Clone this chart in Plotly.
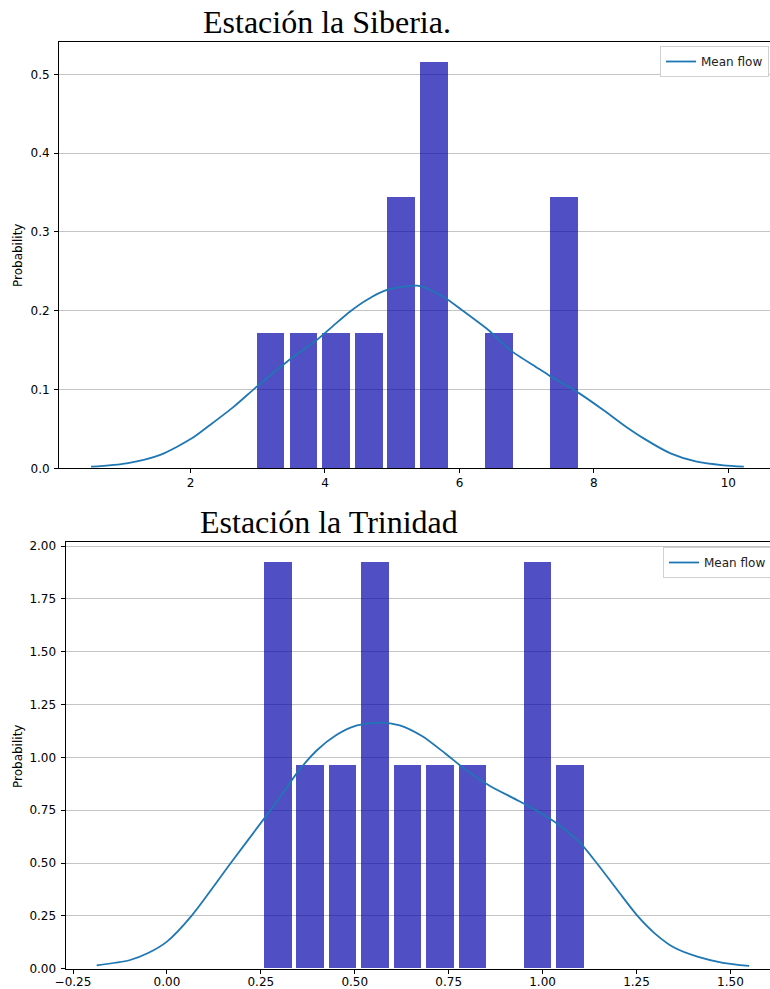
import plotly.graph_objects as go

# ---------------- data ----------------
# Station la Siberia: histogram (density) bins and KDE "Mean flow"
sib_bin_centers = [3.19, 3.68, 4.16, 4.65, 5.13, 5.62, 6.10, 6.59, 7.07, 7.56]
sib_bin_heights = [0.172, 0.172, 0.172, 0.172, 0.344, 0.516, 0.0, 0.172, 0.0, 0.344]
sib_bin_width = 0.4855
sib_kde_x = [0.52, 1.05, 1.55, 2.02, 2.29, 2.64, 2.985, 3.43, 3.88, 4.125, 4.374, 4.62,
             4.92, 5.375, 5.76, 6.05, 6.43, 6.755, 7.15, 7.35, 7.75, 8.14, 8.44, 8.74,
             9.14, 9.53, 9.93, 10.23]
sib_kde_y = [0.002, 0.0063, 0.017, 0.038, 0.055, 0.078, 0.1036, 0.135, 0.163, 0.181, 0.199,
             0.2136, 0.2263, 0.2317, 0.2178, 0.200, 0.1755, 0.150, 0.128, 0.117, 0.097,
             0.074, 0.055, 0.038, 0.019, 0.0084, 0.0038, 0.002]
sib_xticks = [2, 4, 6, 8, 10]
sib_yticks = [0.0, 0.1, 0.2, 0.3, 0.4, 0.5]

# Station la Trinidad
tri_bin_centers = [0.294, 0.380, 0.466, 0.553, 0.639, 0.726, 0.812, 0.899, 0.985, 1.071]
tri_bin_heights = [1.923, 0.962, 0.962, 1.923, 0.962, 0.962, 0.962, 0.0, 1.923, 0.962]
tri_bin_width = 0.0864
tri_kde_x = [-0.187, -0.10, -0.05, 0.0, 0.0655, 0.17, 0.2577, 0.30, 0.35, 0.40,
             0.45, 0.50, 0.567, 0.62, 0.68, 0.74, 0.80, 0.86, 0.93, 0.98, 1.04, 1.10,
             1.144, 1.20, 1.2527, 1.30, 1.35, 1.412, 1.48, 1.55]
tri_kde_y = [0.016, 0.040, 0.074, 0.128, 0.25, 0.50, 0.708, 0.81, 0.935, 1.035,
             1.105, 1.148, 1.165, 1.152, 1.10, 1.02, 0.935, 0.865, 0.80, 0.752, 0.685, 0.595,
             0.50, 0.37, 0.25, 0.165, 0.10, 0.057, 0.028, 0.013]
tri_xticks = [-0.25, 0.0, 0.25, 0.50, 0.75, 1.00, 1.25, 1.50]
tri_yticks = [0.0, 0.25, 0.5, 0.75, 1.0, 1.25, 1.5, 1.75, 2.0]

title_top = "Estación la Siberia."
title_bottom = "Estación la Trinidad"
ylabel = "Probability"
legend_label = "Mean flow"

# ---------------- figure ----------------
W, H = 770, 989
BAR_COLOR = "rgba(5,4,170,0.7)"
LINE_COLOR = "#1f77b4"
RWIDTH = 0.85

fig = go.Figure()

fig.add_trace(go.Bar(x=sib_bin_centers, y=sib_bin_heights,
                     width=[sib_bin_width * RWIDTH] * len(sib_bin_centers),
                     marker=dict(color=BAR_COLOR, line=dict(width=0)),
                     showlegend=False, xaxis="x", yaxis="y"))
fig.add_trace(go.Scatter(x=sib_kde_x, y=sib_kde_y, mode="lines", name=legend_label,
                         line=dict(color=LINE_COLOR, width=1.8, shape="spline", smoothing=0.7),
                         xaxis="x", yaxis="y", legend="legend"))

fig.add_trace(go.Bar(x=tri_bin_centers, y=tri_bin_heights,
                     width=[tri_bin_width * RWIDTH] * len(tri_bin_centers),
                     marker=dict(color=BAR_COLOR, line=dict(width=0)),
                     showlegend=False, xaxis="x2", yaxis="y2"))
fig.add_trace(go.Scatter(x=tri_kde_x, y=tri_kde_y, mode="lines", name=legend_label,
                         line=dict(color=LINE_COLOR, width=1.8, shape="spline", smoothing=0.7),
                         xaxis="x2", yaxis="y2", legend="legend2"))

def px_x(p):
    return p / W

def px_y(p):
    return 1 - p / H

axis_common = dict(showline=True, linecolor="black", linewidth=1, ticks="outside",
                   ticklen=4, tickwidth=1, tickcolor="black", zeroline=False,
                   tickfont=dict(family="DejaVu Sans", size=12, color="black"))

legend_common = dict(bgcolor="white", bordercolor="#d0d0d0", borderwidth=1,
                     font=dict(family="DejaVu Sans", size=12, color="#222222"),
                     itemwidth=30)

fig.update_layout(
    width=W, height=H,
    margin=dict(l=0, r=0, t=0, b=0, autoexpand=False),
    paper_bgcolor="white", plot_bgcolor="white",
    font=dict(family="DejaVu Sans", size=12, color="black"),
    bargap=0,
    xaxis=dict(domain=[px_x(59), 1], range=[0.043, 10.62], tickvals=sib_xticks,
               showgrid=False, mirror=True, anchor="y", ticklabelstandoff=-1, **axis_common),
    yaxis=dict(domain=[px_y(468.3), px_y(42)], range=[0, 0.541], tickvals=sib_yticks,
               tickformat=".1f", showgrid=True, gridcolor="#c4c4c4", gridwidth=1,
               anchor="x", ticklabelstandoff=2, **axis_common),
    xaxis2=dict(domain=[px_x(65.5), 1], range=[-0.270, 1.6054], tickvals=tri_xticks,
                tickformat=".2f", showgrid=False, mirror=True, anchor="y2",
                ticklabelstandoff=-2, **axis_common),
    yaxis2=dict(domain=[px_y(968.7), px_y(542.3)], range=[0, 2.018], tickvals=tri_yticks,
                tickformat=".2f", showgrid=True, gridcolor="#c4c4c4", gridwidth=1,
                anchor="x2", ticklabelstandoff=2, **axis_common),
    legend=dict(x=px_x(769), xanchor="right", y=px_y(46), yanchor="top", **legend_common),
    legend2=dict(x=px_x(663), xanchor="left", y=px_y(547), yanchor="top", **legend_common),
    annotations=[
        dict(text=title_top, xref="paper", yref="paper", x=px_x(326.5), y=px_y(42),
             xanchor="center", yanchor="bottom", showarrow=False,
             font=dict(family="Liberation Serif", size=32, color="black")),
        dict(text=title_bottom, xref="paper", yref="paper", x=px_x(329), y=px_y(542),
             xanchor="center", yanchor="bottom", showarrow=False,
             font=dict(family="Liberation Serif", size=32, color="black")),
        dict(text=ylabel, xref="paper", yref="paper", x=px_x(18), y=px_y(256),
             xanchor="center", yanchor="middle", textangle=-90, showarrow=False,
             font=dict(family="DejaVu Sans", size=12, color="black")),
        dict(text=ylabel, xref="paper", yref="paper", x=px_x(18), y=px_y(757),
             xanchor="center", yanchor="middle", textangle=-90, showarrow=False,
             font=dict(family="DejaVu Sans", size=12, color="black")),
    ],
)

fig.write_html("out.html")
